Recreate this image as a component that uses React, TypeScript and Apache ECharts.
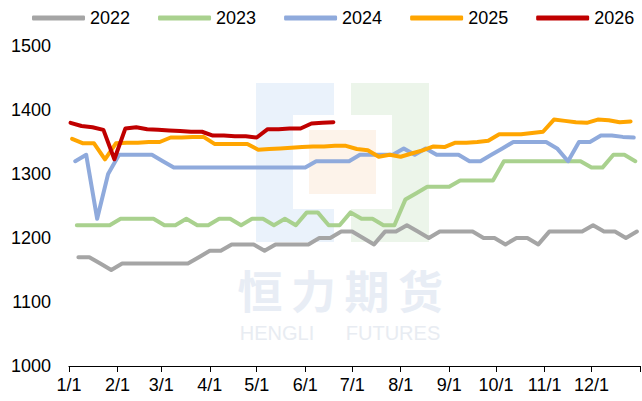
import React, { useEffect, useRef } from "react";
import * as echarts from "echarts";

const years = ["2022", "2023", "2024", "2025", "2026"];
const colors = ["#A5A5A5", "#A9D18E", "#8FAADC", "#FFA500", "#C00000"];
// day of year of each series' first weekly observation
const startDays = [6, 5, 4, 2, 1];

const v2022 = [1170, 1170, 1160, 1150, 1160, 1160, 1160, 1160, 1160, 1160, 1160, 1170, 1180, 1180, 1190, 1190, 1190, 1180, 1190, 1190, 1190, 1190, 1200, 1200, 1210, 1210, 1200, 1190, 1210, 1210, 1220, 1210, 1200, 1210, 1210, 1210, 1210, 1200, 1200, 1190, 1200, 1200, 1190, 1210, 1210, 1210, 1210, 1220, 1210, 1210, 1200, 1210];
const v2023 = [1220, 1220, 1220, 1220, 1230, 1230, 1230, 1230, 1220, 1220, 1230, 1220, 1220, 1230, 1230, 1220, 1230, 1230, 1220, 1230, 1220, 1240, 1240, 1220, 1220, 1240, 1230, 1230, 1220, 1220, 1260, 1270, 1280, 1280, 1280, 1290, 1290, 1290, 1290, 1320, 1320, 1320, 1320, 1320, 1320, 1320, 1320, 1310, 1310, 1330, 1330, 1320];
const v2024 = [1320, 1330, 1230, 1300, 1330, 1330, 1330, 1330, 1320, 1310, 1310, 1310, 1310, 1310, 1310, 1310, 1310, 1310, 1310, 1310, 1310, 1310, 1320, 1320, 1320, 1320, 1330, 1330, 1330, 1330, 1340, 1330, 1340, 1330, 1330, 1330, 1320, 1320, 1330, 1340, 1350, 1350, 1350, 1350, 1340, 1320, 1350, 1350, 1360, 1360, 1358, 1357];
const v2025 = [1355, 1348, 1348, 1323, 1348, 1349, 1349, 1350, 1350, 1357, 1357, 1358, 1358, 1347, 1347, 1347, 1347, 1338, 1339, 1340, 1341, 1342, 1343, 1343, 1344, 1344, 1339, 1337, 1327, 1330, 1327, 1332, 1337, 1343, 1342, 1349, 1349, 1350, 1352, 1362, 1362, 1362, 1364, 1366, 1385, 1383, 1381, 1380, 1385, 1384, 1381, 1382];
const v2026 = [1380, 1375, 1373, 1369, 1323, 1371, 1373, 1370, 1369, 1368, 1367, 1366, 1366, 1360, 1360, 1359, 1359, 1357, 1370, 1370, 1371, 1371, 1379, 1380, 1381];
const seriesValues = [v2022, v2023, v2024, v2025, v2026];

const monthStarts = [0, 31, 59, 90, 120, 151, 181, 212, 243, 273, 304, 334];
const monthLabels = ["1/1", "2/1", "3/1", "4/1", "5/1", "6/1", "7/1", "8/1", "9/1", "10/1", "11/1", "12/1"];
const yearEnd = 365;

const yMin = 1000;
const yMax = 1500;
const yStep = 100;

const wmChars = ["恒", "力", "期", "货"];
const wmWords = ["HENGLI", "FUTURES"];

const FONT = "'Liberation Sans', Arial, sans-serif";

export default function App() {
  const ref = useRef<HTMLDivElement>(null);

  useEffect(() => {
    if (!ref.current) return;
    const chart = echarts.init(ref.current, null, { renderer: "svg" });

    const series = years.map((y, k) => ({
      name: y,
      type: "line",
      data: seriesValues[k].map((v, i) => [startDays[k] + 7 * i, v]),
      showSymbol: false,
      symbol: "none",
      lineStyle: { width: 4, color: colors[k], join: "round", cap: "round" },
      itemStyle: { color: colors[k] },
      z: 3 + k,
    }));

    const charEls = wmChars.map((c, i) => ({
      type: "text",
      z: 0,
      x: 260 + i * 53.5,
      y: 289,
      style: {
        text: c,
        fontSize: 45,
        fontWeight: "bold",
        fontFamily: "'Noto Sans CJK SC', sans-serif",
        fill: "#E8EDF5",
        align: "center",
        verticalAlign: "middle",
      },
    }));
    const wordX = [277, 393];
    const wordEls = wmWords.map((w, i) => ({
      type: "text",
      z: 0,
      x: wordX[i],
      y: 333,
      style: {
        text: w,
        fontSize: 20,
        fontFamily: "'Liberation Sans', Arial, sans-serif",
        fill: "#E8ECF2",
        align: "center",
        verticalAlign: "middle",
      },
    }));

    chart.setOption({
      animation: false,
      backgroundColor: "#ffffff",
      textStyle: { fontFamily: FONT },
      graphic: [
        { type: "rect", z: 0, shape: { x: 256, y: 83, width: 78, height: 159 }, style: { fill: "#EAF2FB" } },
        { type: "rect", z: 0, shape: { x: 351, y: 83, width: 78, height: 159 }, style: { fill: "#ECF5EA" } },
        { type: "rect", z: 0, shape: { x: 293, y: 115, width: 99, height: 94 }, style: { fill: "#FFFFFF" } },
        { type: "rect", z: 0, shape: { x: 309, y: 130, width: 67, height: 64 }, style: { fill: "#FDF3EA" } },
        ...charEls,
        ...wordEls,
      ],
      legend: {
        data: years,
        left: 32,
        top: 9,
        width: 610,
        padding: 0,
        icon: "roundRect",
        itemWidth: 53,
        itemHeight: 5,
        itemGap: 28,
        textStyle: { fontSize: 18, color: "#000", fontFamily: FONT },
      },
      grid: { left: 69, right: 2, top: 46, bottom: 35, containLabel: false },
      xAxis: {
        type: "value",
        min: 0,
        max: yearEnd,
        axisLine: { show: true, lineStyle: { color: "#000", width: 1.2 } },
        axisTick: { show: true, length: 6, customValues: [...monthStarts, yearEnd], lineStyle: { color: "#000" } },
        axisLabel: {
          customValues: monthStarts,
          formatter: (v: number) => monthLabels[monthStarts.indexOf(Math.round(v))] ?? "",
          fontSize: 18,
          color: "#000",
          margin: 10,
          fontFamily: FONT,
        },
        splitLine: { show: false },
      },
      yAxis: {
        type: "value",
        min: yMin,
        max: yMax,
        interval: yStep,
        axisLine: { show: false },
        axisTick: { show: false },
        splitLine: { show: false },
        axisLabel: {
          fontSize: 18,
          color: "#000",
          margin: 18,
          fontFamily: FONT,
          formatter: (v: number) => String(v),
        },
      },
      series,
    });

    return () => chart.dispose();
  }, []);

  return <div ref={ref} style={{ position: "fixed", left: 0, top: 0, width: 642, height: 401 }} />;
}
